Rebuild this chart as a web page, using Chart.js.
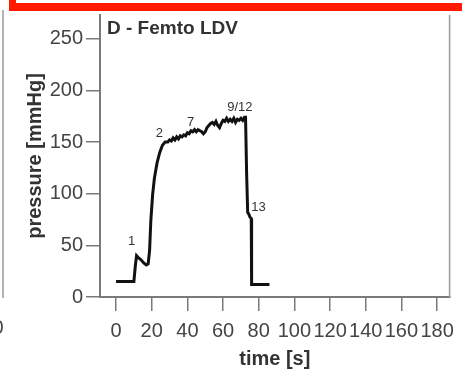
<!DOCTYPE html>
<html>
<head>
<meta charset="utf-8">
<script src="https://cdn.jsdelivr.net/npm/chart.js@4.4.1/dist/chart.umd.min.js"></script>
<style>
  html, body { margin: 0; padding: 0; background: #fff; }
  #wrap { width: 462px; height: 369px; position: relative; }
</style>
</head>
<body>
<div id="wrap"><canvas id="pressureChart"></canvas></div>
<script>
// time trace
const timeSec = [0, 10, 10.8, 11.5, 12.5, 14, 15.5, 17, 18, 18.8,
  19.5, 20.5, 21.5, 23, 24.5, 26, 27.5, 29,
  30, 31, 32, 33, 34, 35, 36, 37, 38, 39,
  40, 41, 42, 43, 44, 45, 46, 47, 48, 49,
  50, 51, 52, 53, 54, 55, 56, 57, 58, 59,
  60, 61, 62, 63, 64, 65, 66, 67, 68, 69,
  70, 71, 72,
  72.6, 73.2, 73.8, 74.5, 75.2, 75.8, 76, 86]
const pressure = [15, 15, 30, 40, 38, 36, 33, 31, 32, 45,
  74, 99, 115, 130, 140, 147, 150, 150,
  152, 151, 154, 152, 155, 153, 156, 155, 157, 156,
  159, 158, 161, 160, 162, 160, 162, 161, 160, 158,
  160, 164, 166, 168, 169, 167, 170, 166, 164, 168,
  171, 170, 173, 170, 172, 170, 173, 169, 172, 171,
  173, 171, 174,
  174, 120, 82, 80, 77, 76, 12, 12]

// numbered event markers
const markLabels = ["1", "2", "7", "9/12", "13"]
const markTime = [8.7, 24.3, 41.8, 69.4, 79.8]
const markPressure = [54, 158, 169, 184, 87]

const xTicks = [0, 20, 40, 60, 80, 100, 120, 140, 160, 180]
const yTicks = [0, 50, 100, 150, 200, 250]

const axisGray = "#7a7a7a"
const textGray = "#444"
const fontFam = "'Liberation Sans', Arial, sans-serif"

const decorations = {
  id: "decorations",
  afterDraw(chart) {
    const { ctx, chartArea, scales } = chart
    ctx.save()
    // right frame edge
    ctx.strokeStyle = "#9a9a9a"
    ctx.lineWidth = 1.5
    ctx.beginPath()
    ctx.moveTo(chartArea.right, chartArea.top)
    ctx.lineTo(chartArea.right, chartArea.bottom)
    ctx.stroke()
    // neighbouring panel edge on the left
    ctx.beginPath()
    ctx.moveTo(3, 10)
    ctx.lineTo(3, 298)
    ctx.stroke()
    ctx.fillStyle = textGray
    ctx.font = "20px " + fontFam
    ctx.textAlign = "center"
    ctx.textBaseline = "middle"
    ctx.fillText("0", -2, 328)

    // red highlight box edge
    ctx.fillStyle = "#ff1a00"
    ctx.fillRect(9, 3, 453, 8)
    ctx.fillRect(9, 0, 7, 11)

    // panel title
    ctx.fillStyle = "#333"
    ctx.font = "bold 19px " + fontFam
    ctx.textAlign = "left"
    ctx.textBaseline = "alphabetic"
    ctx.fillText("D - Femto LDV", 107, 34)

    // event labels
    ctx.font = "13px " + fontFam
    ctx.textAlign = "center"
    ctx.textBaseline = "middle"
    markLabels.forEach((lab, i) => {
      ctx.fillText(lab, scales.x.getPixelForValue(markTime[i]), scales.y.getPixelForValue(markPressure[i]))
    })
    ctx.restore()
  },
}

new Chart(document.getElementById("pressureChart"), {
  type: "scatter",
  data: {
    datasets: [
      {
        data: timeSec.map((t, i) => ({ x: t, y: pressure[i] })),
        showLine: true,
        borderColor: "#111",
        borderWidth: 3,
        pointRadius: 0,
        tension: 0,
      },
    ],
  },
  options: {
    responsive: true,
    maintainAspectRatio: false,
    animation: false,
    layout: { padding: { left: 0, top: 11, right: 6, bottom: 0 } },
    plugins: {
      legend: { display: false },
      tooltip: { enabled: false },
    },
    scales: {
      x: {
        type: "linear",
        min: -9,
        max: 187,
        afterBuildTicks: (scale) => { scale.ticks = xTicks.map((v) => ({ value: v })) },
        afterFit: (scale) => { scale.height = 72 },
        grid: { drawOnChartArea: false, color: axisGray, lineWidth: 1.5, tickLength: 14 },
        border: { color: axisGray, width: 2 },
        ticks: {
          autoSkip: false,
          maxRotation: 0,
          padding: 8,
          color: textGray,
          font: { family: fontFam, size: 20 },
        },
        title: {
          display: true,
          text: "time [s]",
          color: "#333",
          padding: { top: 0, bottom: 0 },
          font: { family: fontFam, size: 20, weight: "bold", lineHeight: 1 },
        },
      },
      y: {
        min: 0,
        max: 273,
        afterBuildTicks: (scale) => { scale.ticks = yTicks.map((v) => ({ value: v })) },
        afterFit: (scale) => { scale.width = 100 },
        grid: { drawOnChartArea: false, color: axisGray, lineWidth: 1.5, tickLength: 14 },
        border: { color: axisGray, width: 2 },
        ticks: {
          padding: 3,
          color: textGray,
          font: { family: fontFam, size: 20 },
        },
        title: {
          display: true,
          text: "pressure [mmHg]",
          color: "#333",
          padding: { top: 25, bottom: 0 },
          font: { family: fontFam, size: 20, weight: "bold", lineHeight: 1 },
        },
      },
    },
  },
  plugins: [decorations],
})
</script>
</body>
</html>
